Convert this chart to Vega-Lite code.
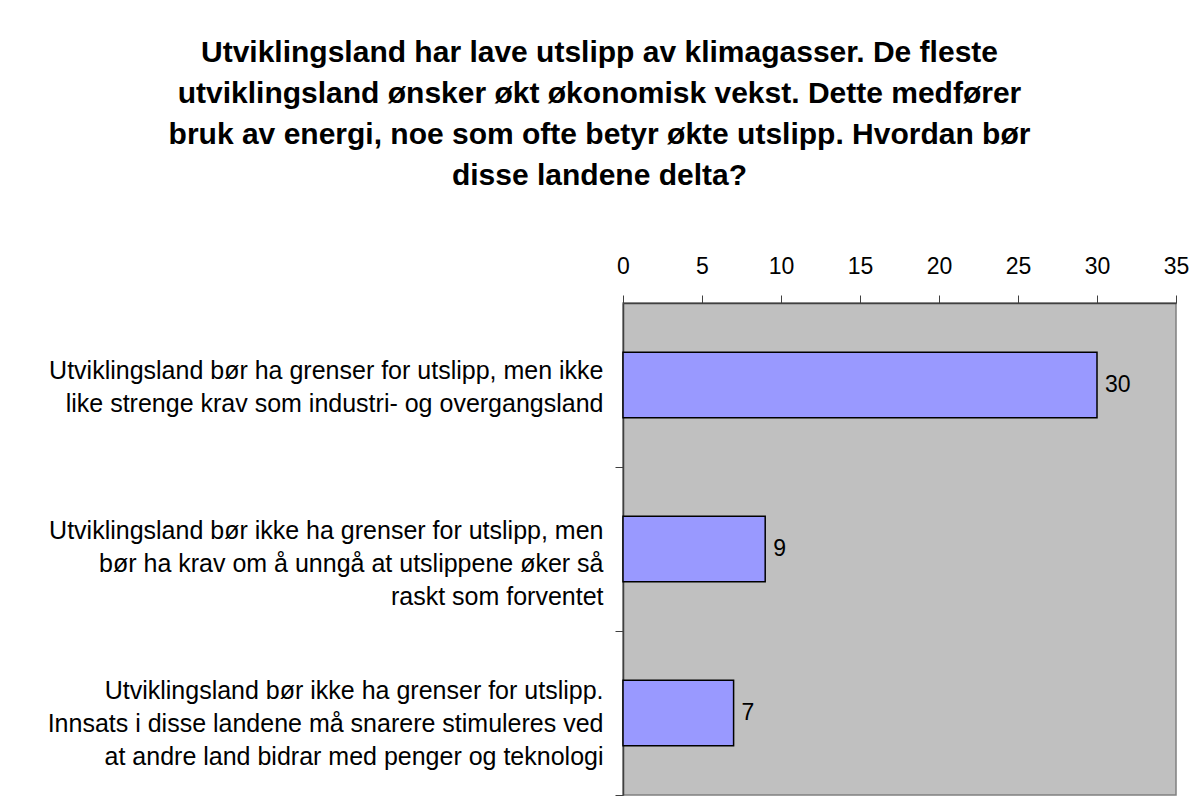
{
  "$schema": "https://vega.github.io/schema/vega-lite/v6.json",
  "autosize": {"type": "none"},
  "width": 553,
  "height": 492,
  "padding": {"left": 623, "top": 303, "right": 23, "bottom": 5},
  "background": "white",
  "title": {
    "text": ["Utviklingsland har lave utslipp av klimagasser. De fleste", "utviklingsland ønsker økt økonomisk vekst. Dette medfører", "bruk av energi, noe som ofte betyr økte utslipp. Hvordan bør", "disse landene delta?"],
    "font": "Liberation Sans",
    "fontSize": 30,
    "fontWeight": "bold",
    "color": "black",
    "lineHeight": 41,
    "anchor": "middle",
    "dx": -300,
    "offset": 64
  },
  "data": {
    "values": [
      {"svar": "Utviklingsland bør ha grenser for utslipp, men ikke|like strenge krav som industri- og overgangsland", "antall": 30},
      {"svar": "Utviklingsland bør ikke ha grenser for utslipp, men|bør ha krav om å unngå at utslippene øker så|raskt som forventet", "antall": 9},
      {"svar": "Utviklingsland bør ikke ha grenser for utslipp.|Innsats i disse landene må snarere stimuleres ved|at andre land bidrar med penger og teknologi", "antall": 7}
    ]
  },
  "config": {
    "view": {"fill": "#C0C0C0", "stroke": "#808080", "strokeWidth": 1.5},
    "font": "Liberation Sans"
  },
  "encoding": {
    "y": {
      "field": "svar",
      "type": "nominal",
      "sort": null,
      "scale": {"paddingInner": 0.6, "paddingOuter": 0.3},
      "axis": {
        "title": null,
        "labelExpr": "split(datum.label, '|')",
        "labelFont": "Liberation Sans",
        "labelFontSize": 25,
        "labelColor": "black",
        "labelLineHeight": 33,
        "labelLimit": 700,
        "labelPadding": 12,
        "labelOffset": {
          "condition": [
            {"test": "indexof(datum.value, 'ikke|like') >= 0", "value": -97},
            {"test": "indexof(datum.value, 'men|bør') >= 0", "value": -101}
          ],
          "value": -105
        },
        "tickSize": 8,
        "tickOffset": 82,
        "tickColor": "#404040",
        "domainColor": "#404040",
        "domainWidth": 1.5
      }
    },
    "x": {
      "field": "antall",
      "type": "quantitative",
      "scale": {"domain": [0, 35], "nice": false},
      "axis": {
        "orient": "top",
        "title": null,
        "values": [0, 5, 10, 15, 20, 25, 30, 35],
        "grid": false,
        "labelFont": "Liberation Sans",
        "labelFontSize": 23,
        "labelColor": "black",
        "labelPadding": 17,
        "tickSize": 8,
        "tickColor": "#404040",
        "domainColor": "#404040",
        "domainWidth": 1.5,
        "labelFlush": false
      }
    }
  },
  "layer": [
    {
      "mark": {"type": "bar", "fill": "#9999FF", "stroke": "black", "strokeWidth": 1.5}
    },
    {
      "mark": {"type": "text", "align": "left", "baseline": "middle", "dx": 8, "fontSize": 23, "font": "Liberation Sans", "color": "black"},
      "encoding": {"text": {"field": "antall", "type": "quantitative"}}
    }
  ]
}
